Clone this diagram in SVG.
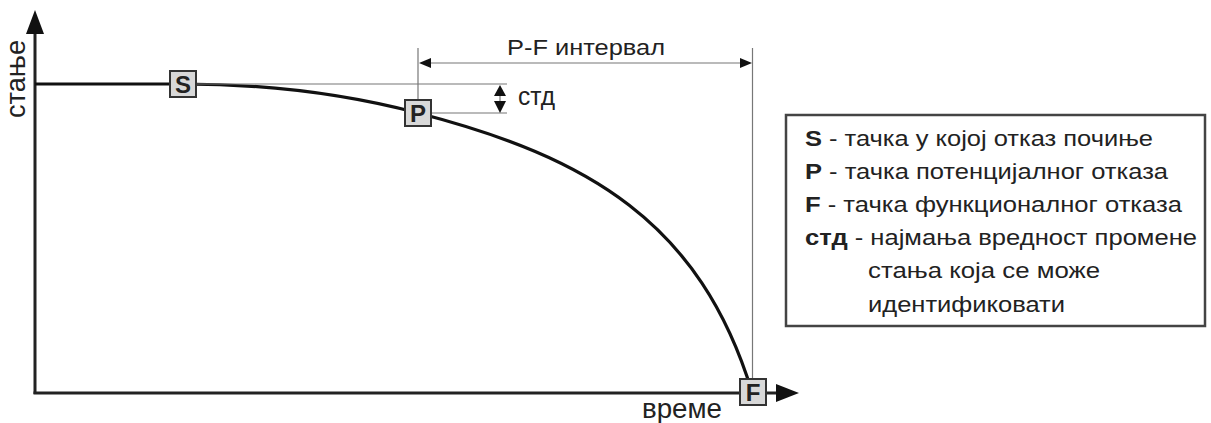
<svg xmlns="http://www.w3.org/2000/svg" width="1211" height="423" viewBox="0 0 1211 423">
<style>
text{font-family:"Liberation Sans",Arial,sans-serif;fill:#222}
.axis{stroke:#222;stroke-width:3;fill:none}
.thin{stroke:#777;stroke-width:1.2;fill:none}
.head{fill:#111;stroke:none}
.curve{stroke:#111;stroke-width:3.2;fill:none}
.box{fill:#d8d8d8;stroke:#333;stroke-width:2}
.lbl{font-size:24px;text-anchor:middle;font-weight:bold}
.leg{font-size:22px}
.ax{font-size:27px}
</style>
<rect width="1211" height="423" fill="#fff"/>
<g id="connectors">
<line class="axis" x1="35" y1="394" x2="35" y2="30"/>
<polygon class="head" points="35,10 26,34 44,34"/>
<line class="axis" x1="33.5" y1="393" x2="780" y2="393"/>
<polygon class="head" points="799,393 776,384 776,402"/>
<path class="curve" d="M35,84 L183,84 C263,84 338,92 418,113 C588,157 700,222 752,392"/>
<line class="thin" x1="196" y1="84" x2="507" y2="84"/>
<line class="thin" x1="431" y1="113" x2="507" y2="113"/>
<line class="thin" x1="418" y1="48" x2="418" y2="100"/>
<line class="thin" x1="752.5" y1="48" x2="752.5" y2="379"/>
<line class="thin" x1="428" y1="63" x2="742" y2="63"/>
<polygon class="head" points="419,63 431,58 431,68"/>
<polygon class="head" points="752,63 740,58 740,68"/>
<line class="thin" x1="500" y1="94" x2="500" y2="103"/>
<polygon class="head" points="500,85 494,96 506,96"/>
<polygon class="head" points="500,113 494,101 506,101"/>
</g>
<g id="node-S"><rect class="box" x="170" y="71" width="26" height="26"/><text class="lbl" x="183" y="93">S</text></g>
<g id="node-P"><rect class="box" x="405" y="100" width="26" height="26"/><text class="lbl" x="418" y="122">P</text></g>
<g id="node-F"><rect class="box" x="740" y="379" width="26" height="26"/><text class="lbl" x="753" y="401">F</text></g>
<g id="labels">
<text class="leg" x="507" y="55" textLength="158" lengthAdjust="spacingAndGlyphs">P-F интервал</text>
<text class="ax" x="518" y="105" textLength="37" lengthAdjust="spacingAndGlyphs" style="font-size:26px">стд</text>
<text class="ax" x="642" y="418" textLength="80" lengthAdjust="spacingAndGlyphs">време</text>
<text class="ax" transform="translate(25,118) rotate(-90)" textLength="78" lengthAdjust="spacingAndGlyphs">стање</text>
</g>
<g id="legend">
<rect x="786" y="115" width="419" height="211" fill="#fff" stroke="#444" stroke-width="2.5"/>
<text class="leg" x="805" y="146" textLength="348" lengthAdjust="spacingAndGlyphs"><tspan font-weight="bold">S</tspan> - тачка у којој отказ почиње</text>
<text class="leg" x="805" y="179" textLength="363" lengthAdjust="spacingAndGlyphs"><tspan font-weight="bold">P</tspan> - тачка потенцијалног отказа</text>
<text class="leg" x="805" y="212" textLength="377" lengthAdjust="spacingAndGlyphs"><tspan font-weight="bold">F</tspan> - тачка функционалног отказа</text>
<text class="leg" x="805" y="245" textLength="392" lengthAdjust="spacingAndGlyphs"><tspan font-weight="bold">стд</tspan> - најмања вредност промене</text>
<text class="leg" x="868" y="278" textLength="232" lengthAdjust="spacingAndGlyphs">стања која се може</text>
<text class="leg" x="868" y="312" textLength="197" lengthAdjust="spacingAndGlyphs">идентификовати</text>
</g>
</svg>
